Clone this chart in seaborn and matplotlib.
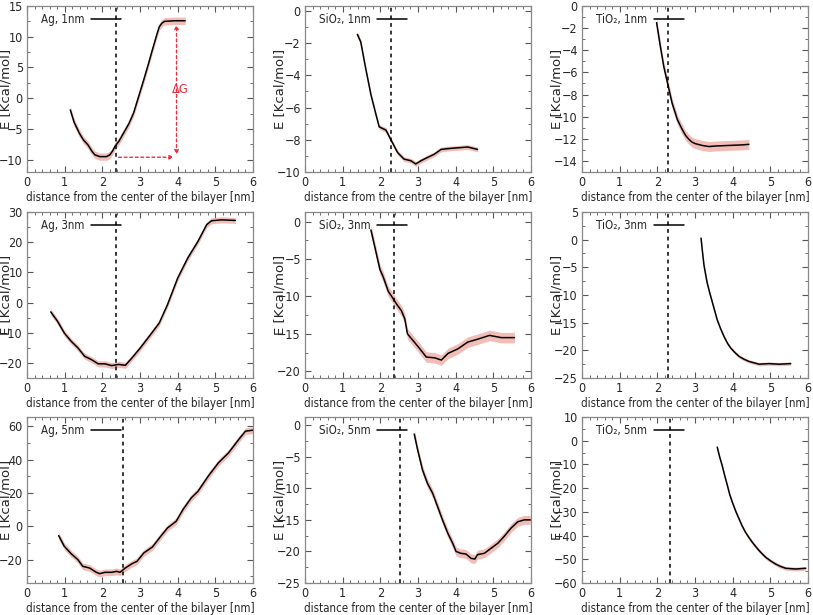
import numpy as np
import pandas as pd
import matplotlib
matplotlib.use("Agg")
import matplotlib.pyplot as plt
import seaborn as sns
from matplotlib.ticker import MultipleLocator, AutoMinorLocator

# --- data (x in nm, E in Kcal/mol) ---
ag1_x = [1.15, 1.25, 1.39, 1.50, 1.62, 1.72, 1.80, 1.93, 2.11, 2.20, 2.27, 2.34, 2.45, 2.56, 2.70, 2.83, 2.97, 3.10, 3.22, 3.33, 3.43, 3.51, 3.58, 3.65, 3.91, 4.15, 4.20]
ag1_y = [-1.9, -3.9, -5.7, -6.8, -7.6, -8.6, -9.2, -9.5, -9.5, -9.2, -8.6, -7.8, -6.9, -5.7, -4.2, -2.4, 0.4, 3.0, 5.5, 7.9, 10.0, 11.6, 12.2, 12.5, 12.6, 12.6, 12.6]

sio1_x = [1.39, 1.48, 1.61, 1.75, 1.88, 1.97, 2.06, 2.15, 2.28, 2.46, 2.63, 2.81, 2.94, 3.08, 3.25, 3.43, 3.61, 3.79, 4.05, 4.32, 4.58]
sio1_y = [-1.46, -1.93, -3.56, -5.2, -6.4, -7.2, -7.3, -7.4, -8.0, -8.8, -9.2, -9.3, -9.5, -9.3, -9.1, -8.9, -8.6, -8.55, -8.5, -8.45, -8.6]

tio1_x = [1.98, 2.08, 2.17, 2.29, 2.39, 2.53, 2.66, 2.75, 2.84, 2.92, 3.01, 3.19, 3.37, 3.55, 3.90, 4.26, 4.43]
tio1_y = [-1.5, -3.66, -5.46, -7.25, -8.75, -10.25, -11.15, -11.7, -12.05, -12.3, -12.44, -12.6, -12.7, -12.65, -12.6, -12.55, -12.5]

ag3_x = [0.63, 0.81, 0.99, 1.17, 1.35, 1.53, 1.71, 1.89, 2.07, 2.25, 2.43, 2.61, 2.79, 3.01, 3.28, 3.51, 3.73, 4.00, 4.27, 4.54, 4.77, 4.90, 5.17, 5.53]
ag3_y = [-3.1, -6.2, -10.1, -12.8, -15.0, -17.8, -18.9, -20.3, -20.3, -20.9, -20.5, -20.8, -18.3, -15.0, -10.6, -6.8, -0.7, 8.1, 14.8, 20.3, 25.8, 27.1, 27.4, 27.2]

sio3_x = [1.75, 1.85, 1.99, 2.07, 2.21, 2.29, 2.43, 2.56, 2.65, 2.72, 2.87, 3.05, 3.22, 3.44, 3.62, 3.80, 4.06, 4.32, 4.59, 4.90, 5.21, 5.56]
sio3_y = [-1.1, -3.3, -6.4, -7.3, -9.3, -9.9, -11.0, -11.9, -13.0, -15.0, -15.9, -17.0, -18.1, -18.2, -18.5, -17.6, -17.0, -16.1, -15.7, -15.2, -15.5, -15.5]

tio3_x = [3.16, 3.19, 3.24, 3.32, 3.39, 3.46, 3.59, 3.68, 3.77, 3.86, 3.95, 4.06, 4.17, 4.30, 4.43, 4.70, 4.96, 5.23, 5.54]
tio3_y = [0.28, -1.7, -4.7, -7.7, -9.6, -11.3, -14.5, -16.1, -17.5, -18.7, -19.6, -20.4, -21.1, -21.6, -22.0, -22.5, -22.4, -22.5, -22.4]

ag5_x = [0.84, 0.99, 1.17, 1.35, 1.48, 1.66, 1.84, 1.93, 2.07, 2.25, 2.38, 2.47, 2.61, 2.79, 2.92, 3.10, 3.33, 3.55, 3.73, 3.96, 4.14, 4.36, 4.54, 4.81, 5.08, 5.35, 5.62, 5.80, 6.00]
ag5_y = [-5.6, -12.0, -16.4, -20.0, -24.0, -25.0, -27.6, -28.4, -27.6, -27.6, -27.0, -27.6, -25.0, -22.4, -21.0, -16.0, -12.4, -6.0, -1.0, 3.0, 10.0, 17.0, 21.0, 30.0, 38.0, 44.0, 52.0, 57.0, 57.6]

sio5_x = [2.90, 2.99, 3.12, 3.25, 3.39, 3.52, 3.65, 3.79, 3.92, 4.01, 4.14, 4.27, 4.41, 4.51, 4.58, 4.76, 4.94, 5.12, 5.29, 5.47, 5.65, 5.82, 5.98]
sio5_y = [-1.4, -3.9, -7.1, -9.2, -10.8, -12.9, -15.0, -17.1, -18.7, -20.0, -20.3, -20.4, -21.1, -21.2, -20.5, -20.3, -19.5, -18.7, -17.6, -16.3, -15.3, -15.0, -15.0]

tio5_x = [3.59, 3.65, 3.72, 3.79, 3.86, 3.92, 3.99, 4.08, 4.17, 4.25, 4.34, 4.43, 4.52, 4.61, 4.70, 4.79, 4.88, 5.01, 5.14, 5.27, 5.41, 5.67, 5.94]
tio5_y = [-2.7, -6.6, -10.4, -14.8, -18.9, -22.6, -25.9, -29.7, -33.0, -35.9, -38.6, -40.8, -42.8, -44.6, -46.3, -47.8, -49.2, -50.7, -52.0, -53.0, -53.8, -54.1, -53.8]

# half-width of the pink error band per panel
band = [0.6, 0.15, 0.45, 1.0, 0.7, 0.3, 2.0, 0.7, 0.8]

labels = ["Ag, 1nm", "SiO₂, 1nm", "TiO₂, 1nm",
          "Ag, 3nm", "SiO₂, 3nm", "TiO₂, 3nm",
          "Ag, 5nm", "SiO₂, 5nm", "TiO₂, 5nm"]
xs = [ag1_x, sio1_x, tio1_x, ag3_x, sio3_x, tio3_x, ag5_x, sio5_x, tio5_x]
ys = [ag1_y, sio1_y, tio1_y, ag3_y, sio3_y, tio3_y, ag5_y, sio5_y, tio5_y]
vlines = [2.36, 2.27, 2.28, 2.35, 2.35, 2.29, 2.54, 2.53, 2.33]
ylims = [(-12, 15), (-10, 0.3), (-15, 0), (-25, 30), (-20.9, 1.3), (-25, 5), (-34, 65.5), (-25, 1.3), (-60, 10)]
ysteps = [5, 2, 2, 10, 5, 5, 20, 5, 10]
xlabels = ["distance from the center of the bilayer [nm]",
           "distance from the centre of the bilayer [nm]"] + \
          ["distance from the center of the bilayer [nm]"] * 7

sns.set_style("ticks")
plt.rcParams['font.family'] = ['DejaVu Sans']
plt.rcParams['font.stretch'] = 'condensed'
FS = 8.3
TS = 9

fig = plt.figure(figsize=(8.13, 6.15), dpi=100)
W, H = 813, 615
lefts = [27, 305, 582]
tops = [6, 212, 417]
aw, ah = 226, 166
ylab_x = [-0.064, -0.08, -0.084]

band_color = "#f2bdb6"
for i in range(9):
    r, c = divmod(i, 3)
    ax = fig.add_axes([lefts[c] / W, 1 - (tops[r] + ah) / H, aw / W, ah / H])
    df = pd.DataFrame({"x": xs[i], "y": ys[i]})
    ax.fill_between(df["x"], df["y"] - band[i], df["y"] + band[i], color=band_color, lw=0, zorder=1)
    sns.lineplot(data=df, x="x", y="y", ax=ax, color="black", lw=1.1, label=labels[i], zorder=3)
    ax.axvline(vlines[i], color="black", ls=(0, (2.5, 2.5)), lw=1.1, zorder=2)
    ax.set_xlim(0, 6)
    ax.set_ylim(*ylims[i])
    ax.xaxis.set_major_locator(MultipleLocator(1))
    ax.xaxis.set_minor_locator(MultipleLocator(0.2))
    ax.yaxis.set_major_locator(MultipleLocator(ysteps[i]))
    ax.yaxis.set_minor_locator(AutoMinorLocator(2))
    ax.tick_params(which="both", direction="in", top=True, right=True, color="#555555", labelsize=TS, pad=3)
    ax.tick_params(which="major", length=4)
    ax.tick_params(which="minor", length=2)
    for s in ax.spines.values():
        s.set_color("#888888")
        s.set_linewidth(0.9)
    ax.set_xlabel(xlabels[i], fontsize=FS, labelpad=1)
    ax.set_ylabel("E [Kcal/mol]", fontsize=9.5, fontstretch="normal")
    ax.yaxis.set_label_coords(ylab_x[c], 0.5)
    ax.legend(loc="upper left", frameon=False, markerfirst=False, handlelength=2.6,
              fontsize=FS, borderaxespad=0.2, handletextpad=0.6, bbox_to_anchor=(0.03, 1.0))

    if i == 0:
        red = "#e53040"
        ax.annotate("", xy=(3.97, 12.4), xytext=(3.97, -9.6),
                    arrowprops=dict(arrowstyle="<|-|>", color=red, ls=(0, (2, 2)), lw=1, mutation_scale=6))
        ax.annotate("", xy=(3.97, -9.6), xytext=(2.36, -9.6),
                    arrowprops=dict(arrowstyle="-|>", color=red, ls=(0, (2, 2)), lw=1, mutation_scale=6))
        ax.text(4.08, 1.4, "ΔG", color=red, fontsize=FS + 1, ha="center", va="center")

fig.savefig("out.png", dpi=100)
